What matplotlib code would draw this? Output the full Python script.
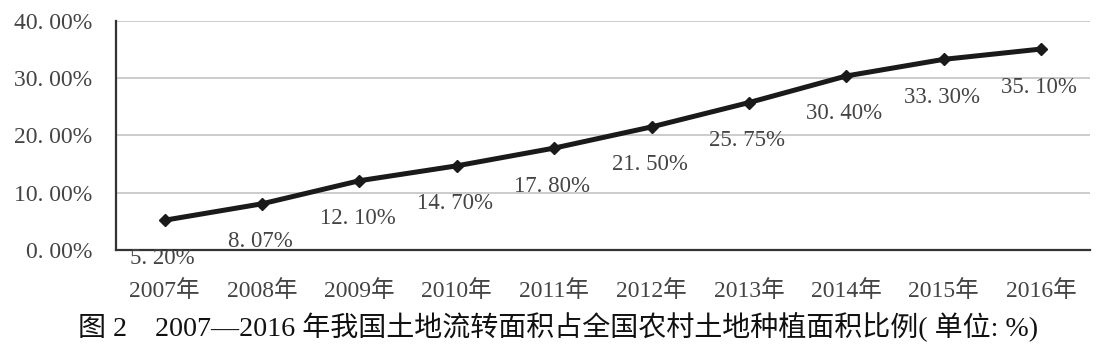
import matplotlib
matplotlib.use("Agg")
import matplotlib.pyplot as plt

years = ["2007年", "2008年", "2009年", "2010年", "2011年", "2012年", "2013年", "2014年", "2015年", "2016年"]
values = [5.20, 8.07, 12.10, 14.70, 17.80, 21.50, 25.75, 30.40, 33.30, 35.10]
yticks = [0, 10, 20, 30, 40]
caption = "图 2　2007—2016 年我国土地流转面积占全国农村土地种植面积比例( 单位: %)"

serif = ["Liberation Serif", "Noto Sans CJK SC"]

fig = plt.figure(figsize=(11.11, 3.6), dpi=100)
ax = fig.add_axes([0.1044, 0.3056, 0.8766, 0.6361])

x = list(range(len(years)))
ax.plot(x, values, color="#1a1a1a", lw=3.6, marker="D", ms=6, zorder=3)
for xi, v in zip(x, values):
    ax.annotate(f"{v:.2f}%".replace(".", ". "), (xi, v), xytext=(-2, -38), textcoords="offset pixels",
                ha="center", va="center", fontsize=16.5, family=serif, color="#444444")

ax.set_xlim(-0.5, len(years) - 0.5)
ax.set_ylim(0, 40)
ax.set_yticks(yticks)
ax.set_yticklabels([f"{t:.2f}%".replace(".", ". ") for t in yticks], family=serif, fontsize=17, color="#444444")
ax.set_xticks(x)
ax.set_xticklabels(years, family=serif, fontsize=17, color="#444444")
ax.tick_params(axis="both", length=0)
ax.tick_params(axis="x", pad=22)
ax.tick_params(axis="y", pad=17)
ax.grid(axis="y", color="#c8c8c8", lw=1.3)
ax.set_axisbelow(True)
for s in ["top", "right"]:
    ax.spines[s].set_visible(False)
ax.spines["left"].set_color("#333333")
ax.spines["left"].set_linewidth(1.6)
ax.spines["bottom"].set_color("#333333")
ax.spines["bottom"].set_linewidth(1.6)

fig.text(0.502, 0.092, caption, ha="center", va="center", fontsize=20.2, family=serif, color="#111111")

fig.savefig("out.png", dpi=100)
